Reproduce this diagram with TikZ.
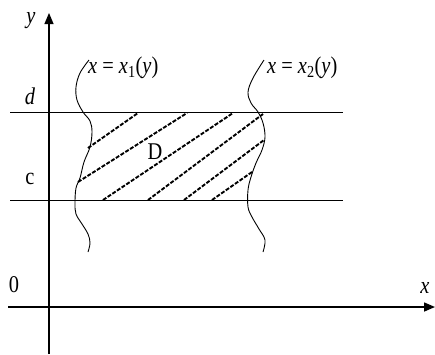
\documentclass[tikz,border=0pt]{standalone}
\usepackage{fontspec}
\setmainfont{Liberation Serif}
\newfontfamily\lblfont[FakeStretch=0.85]{Liberation Serif}
\usetikzlibrary{arrows.meta}

\tikzset{
  axis line/.style={line width=1.5pt,-{Triangle[length=11pt,width=9pt]}},
  level line/.style={line width=1pt},
  bound curve/.style={line width=0.9pt},
  hatch line/.style={line width=1.9pt,dash pattern=on 4pt off 1.6pt},
  axis label/.style={inner sep=0pt,font=\lblfont\fontsize{24}{27}\selectfont}
}

\begin{document}
\begin{tikzpicture}[x=1pt,y=-1pt]
      \useasboundingbox (0,0) rectangle (435,354);
      \coordinate (xstart) at (8,307);
      \coordinate (xend) at (435,307);
      \coordinate (ystart) at (49,354);
      \coordinate (yend) at (49,13);
      \draw[axis line] (xstart) -- (xend);
      \draw[axis line,line width=1.2pt] (ystart) -- (yend);
      \draw[level line] (10,112) -- (343,112);
      \draw[level line] (10,200) -- (343,200);
      % the two boundary curves
      \draw[bound curve] plot[smooth,tension=0.6] coordinates {(89,60) (80,73) (76,87) (77,100)
        (83,112) (90,121) (92,132) (90,147) (84,162) (80,178) (76,188) (75,203)
        (76,214) (82,224) (88,234) (90,243) (88,252)};
      \draw[bound curve] plot[smooth,tension=0.6] coordinates {(264,60) (253,78) (248,92) (251,103)
        (258,112) (263,123) (265,137) (262,150) (256,163) (251,177) (248,190)
        (248,207) (252,217) (259,229) (265,240) (263,252)};
      % hatching of D
      \foreach \a/\b in {{(88,148)}/{(138,113)}, {(78,182)}/{(187,113)},
          {(103,200)}/{(233,113)}, {(148,200)}/{(263,114)},
          {(184,200)}/{(264,140)}, {(212,200)}/{(252,172)}}
        \draw[hatch line] \a -- \b;
      \node[axis label] (ylab) at (31,21) {\textit{y}};
      \node[axis label] (dlab) at (30,96) {\textit{d}};
      \node[axis label] (clab) at (30,179) {c};
      \node[axis label] (olab) at (14,285) {0};
      \node[axis label] (xlab) at (425,288) {\textit{x}};
      \node[axis label] (dom) at (155,152) {D};
      \node[axis label,anchor=west] (curve1) at (88,68) {\textit{x} = \textit{x}\textsubscript{1}(\textit{y})};
      \node[axis label,anchor=west] (curve2) at (267,68) {\textit{x} = \textit{x}\textsubscript{2}(\textit{y})};
    \end{tikzpicture}
\end{document}
